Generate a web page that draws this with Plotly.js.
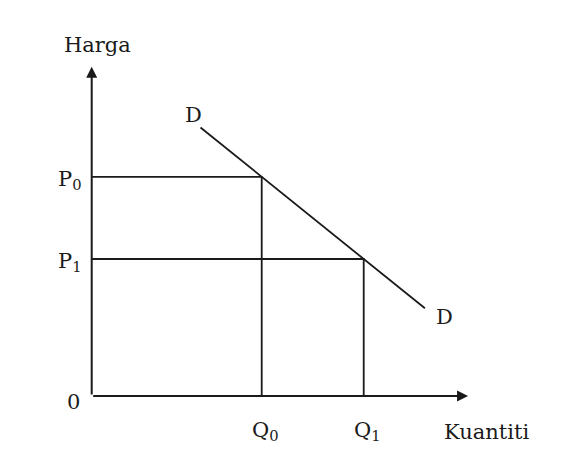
<!DOCTYPE html>
<html>
<head>
<meta charset="utf-8">
<script src="https://cdn.plot.ly/plotly-3.0.1.min.js"></script>
<style>html,body{margin:0;padding:0;background:#fff;}#chart{width:572px;height:466px;}</style>
</head>
<body>
<div id="chart"></div>
<script>
// Data (abstract units)
const quantities = [5, 8];          // Q0, Q1
const prices = [8, 5];              // P0, P1
const demandX = [3.2, 9.8];
const demandY = [9.8, 3.2];
const axisEnd = {x: 11.07, y: 12.02};
const priceLabels = ["P<sub>0</sub>", "P<sub>1</sub>"];
const qtyLabels = ["Q<sub>0</sub>", "Q<sub>1</sub>"];
const xTitle = "Kuantiti";
const yTitle = "Harga";
const curveLabel = "D";

const ink = "#1a1a1a";
const font = {family: "DejaVu Serif, Liberation Serif, serif", size: 21, color: ink};

const traces = [];
// Demand curve
traces.push({x: demandX, y: demandY, mode: "lines", line: {color: ink, width: 1.8}, hoverinfo: "skip"});
// Guide lines for each price/quantity pair
for (let i = 0; i < quantities.length; i++) {
  traces.push({
    x: [0, quantities[i], quantities[i]],
    y: [prices[i], prices[i], 0],
    mode: "lines", line: {color: ink, width: 1.8}, hoverinfo: "skip"
  });
}

const ann = [];
// Axes with arrows
ann.push({x: axisEnd.x, y: 0, ax: 0, ay: 0, xref: "x", yref: "y", axref: "x", ayref: "y",
  showarrow: true, arrowhead: 2, arrowsize: 1.1, arrowwidth: 2, arrowcolor: ink, text: ""});
ann.push({x: 0, y: axisEnd.y, ax: 0, ay: 0, xref: "x", yref: "y", axref: "x", ayref: "y",
  showarrow: true, arrowhead: 2, arrowsize: 1.1, arrowwidth: 2, arrowcolor: ink, text: ""});
// Labels
ann.push({x: 0.16, y: 12.81, text: yTitle, showarrow: false, font: font, xanchor: "center", yanchor: "middle"});
ann.push({x: 11.62, y: -1.31, text: xTitle, showarrow: false, font: font, xanchor: "center", yanchor: "middle"});
ann.push({x: -0.55, y: -0.22, text: "0", showarrow: false, font: font, xanchor: "center", yanchor: "middle"});
for (let i = 0; i < prices.length; i++) {
  ann.push({x: -0.24, y: prices[i] - 0.1, text: priceLabels[i], showarrow: false, font: font, xanchor: "right", yanchor: "middle"});
  ann.push({x: quantities[i] + 0.1, y: -1.28, text: qtyLabels[i], showarrow: false, font: font, xanchor: "center", yanchor: "middle"});
}
ann.push({x: 2.98, y: 10.26, text: curveLabel, showarrow: false, font: font, xanchor: "center", yanchor: "middle"});
ann.push({x: 10.39, y: 2.88, text: curveLabel, showarrow: false, font: font, xanchor: "center", yanchor: "middle"});

const layout = {
  width: 572, height: 466,
  margin: {l: 0, r: 0, t: 0, b: 0},
  paper_bgcolor: "#ffffff", plot_bgcolor: "#ffffff",
  showlegend: false,
  xaxis: {range: [-2.697, 14.126], visible: false, fixedrange: true},
  yaxis: {range: [-2.555, 14.453], visible: false, fixedrange: true},
  annotations: ann
};
Plotly.newPlot("chart", traces, layout, {staticPlot: true, displayModeBar: false});
</script>
</body>
</html>
